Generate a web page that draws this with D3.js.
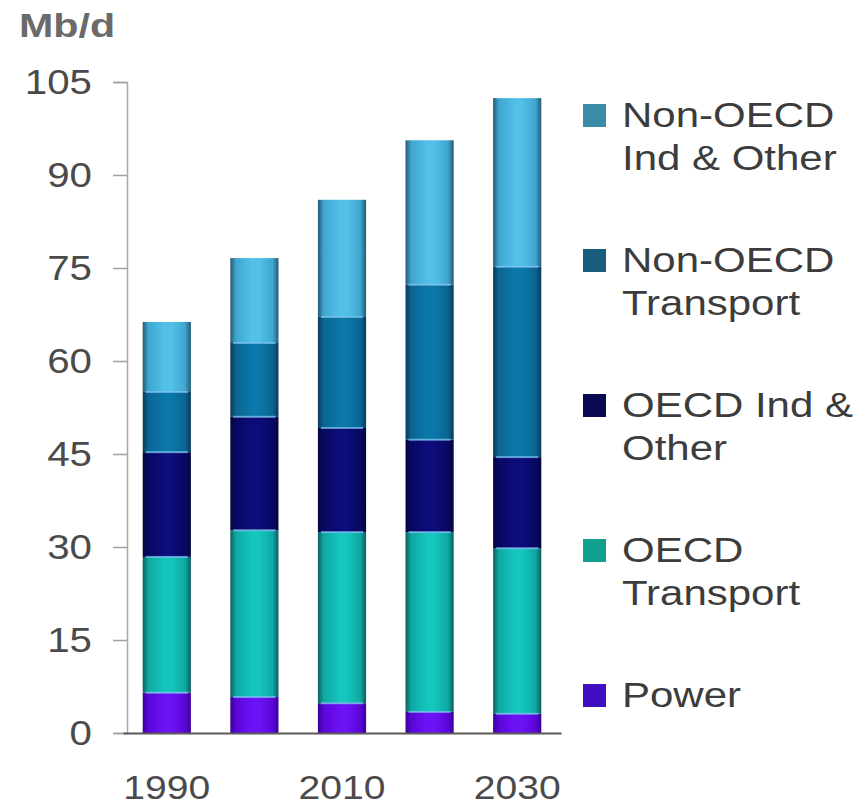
<!DOCTYPE html>
<html>
<head>
<meta charset="utf-8">
<script src="https://cdn.jsdelivr.net/npm/d3@7/dist/d3.min.js"></script>
<style>
  html, body { margin: 0; padding: 0; background: #ffffff; }
  svg { display: block; }
  text { font-family: "Liberation Sans", Arial, Helvetica, sans-serif; }
</style>
</head>
<body>
<svg id="chart" width="868" height="808"></svg>
<script>
// Oil demand by sector, million barrels per day
const years = ["1990", "2000", "2010", "2020", "2030"];
const yearLabels = ["1990", "2010", "2030"];
const yTicks = [0, 15, 30, 45, 60, 75, 90, 105];

// Series, stacked bottom to top
const power          = [6.5, 5.8, 4.8, 3.4, 3.1];
const oecdTransport  = [21.9, 26.9, 27.6, 29.0, 26.7];
const oecdIndOther   = [16.9, 18.3, 16.8, 14.9, 14.7];
const nonOecdTransp  = [9.7, 11.9, 17.9, 25.0, 30.7];
const nonOecdIndOth  = [11.3, 13.7, 18.9, 23.3, 27.2];

const seriesKeys = ["power", "oecdT", "oecdI", "nonT", "nonI"];
const seriesValues = [power, oecdTransport, oecdIndOther, nonOecdTransp, nonOecdIndOth];
const legendLabels = [
  ["Non-OECD", "Ind & Other"],
  ["Non-OECD", "Transport"],
  ["OECD Ind &", "Other"],
  ["OECD", "Transport"],
  ["Power"]
];
const legendKeys = ["nonI", "nonT", "oecdI", "oecdT", "power"];

// Bar shading: dark edges, light centre
const shades = {
  power: { edge: "#3a0096", mid: "#5a06d8", centre: "#6e12f6", swatch: "#4010c0" },
  oecdT: { edge: "#0b5f5e", mid: "#0fa8a2", centre: "#14c6be", swatch: "#12a08e" },
  oecdI: { edge: "#05053e", mid: "#080862", centre: "#0c0c7a", swatch: "#0a0a52" },
  nonT:  { edge: "#0a3a56", mid: "#0a6592", centre: "#0b78aa", swatch: "#1a5c7c" },
  nonI:  { edge: "#255a74", mid: "#3fa6d0", centre: "#52c0e8", swatch: "#3a8aa8" }
};

const svg = d3.select("#chart");
const textScaleX = 1.15;

const table = years.map((yr, i) => {
  const row = { year: yr };
  seriesKeys.forEach((k, j) => { row[k] = seriesValues[j][i]; });
  return row;
});

const x = d3.scaleBand().domain(years).range([123, 561]).paddingInner(0.45).paddingOuter(0.225);
const y = d3.scaleLinear().domain([0, 105]).range([733, 82]);

// gradients
const defs = svg.append("defs");
seriesKeys.forEach(k => {
  const g = defs.append("linearGradient").attr("id", "grad-" + k)
    .attr("x1", "0%").attr("x2", "100%").attr("y1", "0%").attr("y2", "0%");
  const s = shades[k];
  [[0, s.edge], [0.12, s.mid], [0.45, s.centre], [0.6, s.centre], [0.88, s.mid], [1, s.edge]]
    .forEach(([o, c]) => g.append("stop").attr("offset", o).attr("stop-color", c));
});

// y axis
const yAxis = d3.axisLeft(y).tickValues(yTicks).tickSize(14).tickPadding(21).tickFormat(d3.format("d"));
const gy = svg.append("g").attr("transform", "translate(127,0)").call(yAxis);
gy.select(".domain").attr("stroke", "#a8a8a8").attr("stroke-width", 1.5);
gy.selectAll(".tick line").attr("stroke", "#a0a0a0").attr("stroke-width", 1.5);
gy.selectAll(".tick text")
  .attr("fill", "#4a4a4a").attr("font-size", 35)
  .each(function () {
    const t = d3.select(this);
    const tx = +t.attr("x");
    t.attr("x", 0).attr("transform", `translate(${tx},0) scale(${textScaleX},1)`);
  });

// stacked bars
const stack = d3.stack().keys(seriesKeys)(table);
const layers = svg.append("g").selectAll("g").data(stack).join("g")
  .attr("fill", d => `url(#grad-${d.key})`);
layers.selectAll("rect").data(d => d).join("rect")
  .attr("x", d => x(d.data.year))
  .attr("width", x.bandwidth())
  .attr("y", d => y(d[1]))
  .attr("height", d => y(d[0]) - y(d[1]));

// thin highlight at each inner segment boundary
stack.slice(1).forEach(layer => {
  svg.append("g").selectAll("rect").data(layer).join("rect")
    .attr("x", d => x(d.data.year) + 3)
    .attr("width", x.bandwidth() - 6)
    .attr("y", d => y(d[0]) - 1)
    .attr("height", 2)
    .attr("fill", "#7cc0ee")
    .attr("opacity", 0.75);
});

// x axis baseline and labels
const xAxis = d3.axisBottom(x).tickSize(0).tickPadding(44)
  .tickFormat(d => yearLabels.includes(d) ? d : "");
const gx = svg.append("g").attr("transform", "translate(0,733)").call(xAxis);
gx.select(".domain").attr("stroke", "#5a5a5a").attr("stroke-width", 2);
gx.selectAll(".tick text")
  .attr("fill", "#4a4a4a").attr("font-size", 34).attr("dy", "0")
  .each(function () {
    const t = d3.select(this);
    const ty = +t.attr("y");
    t.attr("y", 0).attr("transform", `translate(0,${ty + 22}) scale(${textScaleX},1)`);
  });

// unit label
svg.append("text")
  .attr("transform", `translate(19,37) scale(${textScaleX + 0.1},1)`)
  .attr("fill", "#6a6a6a").attr("font-size", 33).attr("font-weight", "bold")
  .text("Mb/d");

// legend
const legendScaleX = 1.2;
const legend = svg.append("g").selectAll("g").data(legendKeys).join("g")
  .attr("transform", (d, i) => `translate(583,${127 + i * 145})`);
legend.append("rect")
  .attr("x", 0).attr("y", -23).attr("width", 23).attr("height", 23)
  .attr("fill", d => shades[d].swatch);
legend.each(function (d, i) {
  const g = d3.select(this);
  legendLabels[i].forEach((line, j) => {
    g.append("text")
      .attr("transform", `translate(39,${j * 43}) scale(${legendScaleX},1)`)
      .attr("fill", "#3c3c3c").attr("font-size", 35)
      .text(line);
  });
});
</script>
</body>
</html>
